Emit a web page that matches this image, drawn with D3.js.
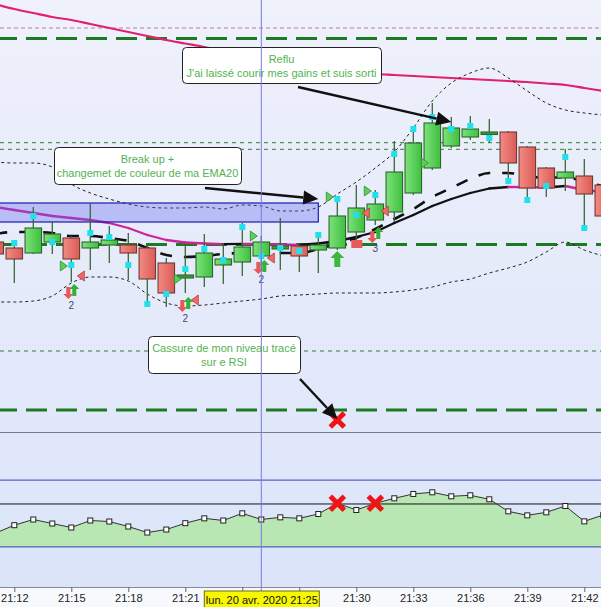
<!DOCTYPE html>
<html><head><meta charset="utf-8">
<script src="https://cdn.jsdelivr.net/npm/d3@7"></script>
<style>
body{margin:0;background:#fff}
svg{display:block}
text{font-family:"Liberation Sans",Arial,sans-serif}
</style></head>
<body><svg id="c" width="601" height="607"></svg>
<script>
// ---------- DATA (price units are arbitrary chart points) ----------
const day = "2020-04-20";
const times = ["21:11","21:12","21:13","21:14","21:15","21:16","21:17","21:18","21:19","21:20","21:21","21:22","21:23","21:24","21:25","21:26","21:27","21:28","21:29","21:30","21:31","21:32","21:33","21:34","21:35","21:36","21:37","21:38","21:39","21:40","21:41","21:42","21:43"];
const open  = [190,184,179,190,194,184,187,187,184,169,154,155,167,170,176,183,186,182,184,200,212,220,239,264,286,295,298,300,285,264,254,256,247];
const high  = [197,186,225,211,196,229,206,199,189,174,187,198,189,209,196,214,188,199,232,247,242,291,305,329,315,316,313,301,286,265,283,273,252];
const low   = [170,149,178,178,150,162,169,152,125,125,139,145,148,156,162,162,160,159,182,192,207,210,237,262,284,292,289,251,232,235,241,204,210];
const close = [178,173,204,198,173,190,192,179,153,139,157,179,173,185,190,186,176,187,216,224,228,260,289,309,304,303,300,269,244,244,260,238,216];
const ema20 = [225,222,219,216,214,212,209,204,197,192,189.5,188.5,187.8,188.2,188,187.5,187,188.5,191,195,200,209,217,226,233,239,243.5,245,244.8,244.5,246,242,240];
const slowAvg = [198,200,200,199,196,196,194,191,184,177,175,176,178,179,179,179,179,183,188,194,203,213,223,235,244,253,259,259,256,254,255,250,246];
const longAvg = [428,423,419,415,412,408,404,400,396,392,388.5,385,381,377,373,369,366,363,361,359.5,358,357,356,355,354,353,352,351,350,348.5,347,344,341];
const bbUpper = [270,269,269,265,248,239,233,228,225,224,224,225,223,227,226,221,221,225,238,250,264,280,304,331,349,359,364,354,341,329,322,319,317];
const bbLower = [130,130,131,136,149,155,155,151,138,129,126,127,129,131,133,136,137,138,139,139,139,140,142,145,150,153,159,164,170,180,190,182,176];
const cyanPts = [null,189,216,190,167,199,195,167,128,138,163,183,172,205,176,184,181,197,233,217,237,278,303,315,303,306,294,251,232,246,275,204,null];
const rsi = [38.2,43.0,46.4,44.0,41.6,45.8,45.2,42.2,38.6,40.4,44.2,47.1,45.8,50.1,46.4,47.7,47.1,49.7,56.1,52.1,56.1,59.1,61.7,62.7,60.3,60.9,58.5,51.3,48.9,50.7,54.5,45.3,49.1];

const thickLevels = [393.5, 187.5, 22];
const thinLevels = [289.3, 282.7, 81];
const pinkLevel = 404;
const rsiLevels = [70, 30];
const rsiUserLevel = 55.7;
const zone = {from:"21:05", to:"21:28", low:210, high:229};

const greenTri = [{t:"21:15",p:166},{t:"21:21",p:153},{t:"21:25",p:196},{t:"21:29",p:235},{t:"21:31",p:241},{t:"21:34",p:269}];
const redTri = [{t:"21:15",p:156},{t:"21:21",p:132},{t:"21:25",p:174},{t:"21:30",p:219},{t:"21:31",p:221}];
const signals = [{t:"21:15",down:139,up:142,label:"2",lp:127},{t:"21:21",down:126,up:129,label:"2",lp:114},{t:"21:25",down:164,up:166,label:"2",lp:153},{t:"21:31",down:195,up:199,label:"3",lp:184}];
const bigUp = [{t:"21:29",p:173}];
const redBox = [{t:"21:30",p:188}];
const crossPrice = [{t:"21:29",p:12}];
const crossRsi = [{t:"21:29",v:56.1},{t:"21:31",v:56.1}];
const cursorTime = "21:25";

const notes = [
  {lines:["Reflu","J'ai laissé courir mes gains et suis sorti"], box:[182,47,199,36], from:[298,87], tipT:"21:35", tipP:310},
  {lines:["Break up +","changemet de couleur de ma EMA20"], box:[54,147,187,37], from:[205,188], tipT:"21:28", tipP:233},
  {lines:["Cassure de mon niveau tracé","sur e RSI"], box:[148,336,152,37], from:[300,379], tipT:"21:29", tipP:13}
];

// ---------- SETUP ----------
const parse = d3.timeParse("%Y-%m-%d %H:%M");
const T = s => parse(day+" "+s);
const bars = times.map((t,i)=>({t:T(t),o:open[i],h:high[i],l:low[i],c:close[i],i}));

const x = d3.scaleTime().domain([T("21:12"),T("21:42")]).range([14.3,584.3]);
const y = d3.scaleLinear().domain([0,432]).range([432,0]);
const yR = d3.scaleLinear().domain([0,100]).range([597,430]);

const svg = d3.select("#c");
const defs = svg.append("defs");
const bg = defs.append("linearGradient").attr("id","bg").attr("x1",0).attr("y1",0).attr("x2",0).attr("y2",1);
bg.append("stop").attr("offset","0%").attr("stop-color","#eff1fb");
bg.append("stop").attr("offset","100%").attr("stop-color","#dbe4f9");
const gg = defs.append("linearGradient").attr("id","gG").attr("x1",0).attr("x2",1);
gg.append("stop").attr("offset","0%").attr("stop-color","#7ce27a");
gg.append("stop").attr("offset","100%").attr("stop-color","#3fbf3f");
const rg = defs.append("linearGradient").attr("id","gR").attr("x1",0).attr("x2",1);
rg.append("stop").attr("offset","0%").attr("stop-color","#f48a84");
rg.append("stop").attr("offset","100%").attr("stop-color","#d95c56");
defs.append("clipPath").attr("id","cMain").append("rect").attr("x",0).attr("y",0).attr("width",601).attr("height",432);
defs.append("clipPath").attr("id","cRsi").append("rect").attr("x",0).attr("y",432).attr("width",601).attr("height",155);

svg.append("rect").attr("x",0).attr("y",0).attr("width",601).attr("height",587).attr("fill","url(#bg)");
svg.append("rect").attr("x",0).attr("y",587).attr("width",601).attr("height",20).attr("fill","#f8f9fc");

const main = svg.append("g").attr("clip-path","url(#cMain)");

// levels
main.append("line").attr("x1",0).attr("x2",601).attr("y1",y(pinkLevel)).attr("y2",y(pinkLevel))
  .attr("stroke","#c97a98").attr("stroke-width",1).attr("stroke-dasharray","4,3");
main.selectAll(".thin").data(thinLevels).join("line").attr("x1",0).attr("x2",601)
  .attr("y1",d=>y(d)).attr("y2",d=>y(d)).attr("stroke","#2f7d32").attr("stroke-width",1).attr("stroke-dasharray","4,4");
main.selectAll(".thick").data(thickLevels).join("line").attr("x1",0).attr("x2",601)
  .attr("y1",d=>y(d)).attr("y2",d=>y(d)).attr("stroke","#1e7a22").attr("stroke-width",3)
  .attr("stroke-dasharray","21,9").attr("stroke-dashoffset",4);

// lines
const lineOf = (arr, curve) => d3.line().x((d,i)=>x(bars[i].t)).y(d=>y(d)).curve(curve||d3.curveMonotoneX)(arr);
main.append("path").attr("d",lineOf(longAvg)).attr("fill","none").attr("stroke","#e3206f").attr("stroke-width",2.2);
main.append("path").attr("d",lineOf(bbUpper)).attr("fill","none").attr("stroke","#222").attr("stroke-width",1).attr("stroke-dasharray","3,3");
main.append("path").attr("d",lineOf(bbLower)).attr("fill","none").attr("stroke","#222").attr("stroke-width",1).attr("stroke-dasharray","3,3");
main.append("path").attr("d",lineOf(slowAvg)).attr("fill","none").attr("stroke","#111").attr("stroke-width",2.6).attr("stroke-dasharray","12,12");
// EMA20 coloured by slope
for(let i=0;i<ema20.length-1;i++){
  const up = ema20[i+1] >= ema20[i];
  main.append("line").attr("x1",x(bars[i].t)).attr("y1",y(ema20[i])).attr("x2",x(bars[i+1].t)).attr("y2",y(ema20[i+1]))
    .attr("stroke", up ? "#111" : "#cc249c").attr("stroke-width",2.3).attr("stroke-linecap","round");
}

// zone
main.append("rect").attr("x",x(T(zone.from))).attr("y",y(zone.high))
  .attr("width",x(T(zone.to))-x(T(zone.from))).attr("height",y(zone.low)-y(zone.high))
  .attr("fill","rgba(88,96,238,0.33)").attr("stroke","#1c1cb0").attr("stroke-width",1.2);

// candles
const bw = 16.5;
const cg = main.append("g");
cg.selectAll(".wick").data(bars).join("line")
  .attr("x1",d=>x(d.t)).attr("x2",d=>x(d.t)).attr("y1",d=>y(d.h)).attr("y2",d=>y(d.l))
  .attr("stroke","#3a673a").attr("stroke-width",1.3);
cg.selectAll(".body").data(bars).join("rect")
  .attr("x",d=>x(d.t)-bw/2).attr("width",bw)
  .attr("y",d=>y(Math.max(d.o,d.c))).attr("height",d=>Math.max(2.5,Math.abs(y(d.o)-y(d.c))))
  .attr("fill",d=>d.c>=d.o ? (Math.abs(d.c-d.o)<4?"#3a9a3a":"url(#gG)") : "url(#gR)")
  .attr("stroke",d=>d.c>=d.o?"#2d662d":"#6e3b32").attr("stroke-width",1.1);

// cyan points
main.selectAll(".cy").data(bars.filter(d=>cyanPts[d.i]!=null)).join("rect")
  .attr("x",d=>x(d.t)-3).attr("y",d=>y(cyanPts[d.i])-3).attr("width",6).attr("height",6).attr("fill","#20e0ea");

// triangles
main.selectAll(".gt").data(greenTri).join("path")
  .attr("transform",d=>`translate(${x(T(d.t))-8},${y(d.p)})`)
  .attr("d","M-3,-5L4,0L-3,5Z").attr("fill","#5ad05a").attr("stroke","#2c8a2c").attr("stroke-width",0.8);
main.selectAll(".rt").data(redTri).join("path")
  .attr("transform",d=>`translate(${x(T(d.t))+10},${y(d.p)})`)
  .attr("d","M3,-5L-4,0L3,5Z").attr("fill","#f06a6a").attr("stroke","#c23434").attr("stroke-width",0.8);
// signal arrows
const upArrow = "M0,-6L5,-1L2,-1L2,6L-2,6L-2,-1L-5,-1Z";
const dnArrow = "M0,6L5,1L2,1L2,-6L-2,-6L-2,1L-5,1Z";
const sg = main.selectAll(".sig").data(signals).join("g");
sg.append("path").attr("transform",d=>`translate(${x(T(d.t))-3},${y(d.down)})`).attr("d",dnArrow).attr("fill","#e85858");
sg.append("path").attr("transform",d=>`translate(${x(T(d.t))+3},${y(d.up)})`).attr("d",upArrow).attr("fill","#34b034");
sg.append("text").attr("x",d=>x(T(d.t))).attr("y",d=>y(d.lp)+4).attr("text-anchor","middle")
  .attr("font-size",10).attr("fill","#3a4a72").text(d=>d.label);
main.selectAll(".bu").data(bigUp).join("path")
  .attr("transform",d=>`translate(${x(T(d.t))},${y(d.p)})`)
  .attr("d","M0,-8L7,-1L3,-1L3,8L-3,8L-3,-1L-7,-1Z").attr("fill","#3cb83c");
main.selectAll(".rb").data(redBox).join("rect")
  .attr("x",d=>x(T(d.t))-5).attr("y",d=>y(d.p)-4).attr("width",11).attr("height",8).attr("fill","#e85a5a");

const xMark = "M-7,-7L7,7M7,-7L-7,7";
main.selectAll(".xp").data(crossPrice).join("path")
  .attr("transform",d=>`translate(${x(T(d.t))},${y(d.p)})`).attr("d",xMark)
  .attr("stroke","#f01414").attr("stroke-width",5);

// ---------- RSI panel ----------
const rs = svg.append("g").attr("clip-path","url(#cRsi)");
rs.append("path").attr("d",d3.area().x((d,i)=>x(bars[i].t)).y0(yR(30)).y1(d=>yR(d))(rsi))
  .attr("fill","#b9e7b3");
rs.selectAll(".lvl").data(rsiLevels).join("line").attr("x1",0).attr("x2",601)
  .attr("y1",d=>yR(d)).attr("y2",d=>yR(d)).attr("stroke","#3742b2").attr("stroke-width",1);
rs.append("line").attr("x1",0).attr("x2",601).attr("y1",yR(rsiUserLevel)).attr("y2",yR(rsiUserLevel))
  .attr("stroke","#111").attr("stroke-width",1);
rs.append("path").attr("d",d3.line().x((d,i)=>x(bars[i].t)).y(d=>yR(d))(rsi))
  .attr("fill","none").attr("stroke","#333").attr("stroke-width",1);
rs.selectAll(".sq").data(rsi).join("rect")
  .attr("x",(d,i)=>x(bars[i].t)-2.5).attr("y",d=>yR(d)-2.5).attr("width",5).attr("height",5)
  .attr("fill","#fff").attr("stroke","#222").attr("stroke-width",1);
rs.selectAll(".xr").data(crossRsi).join("path")
  .attr("transform",d=>`translate(${x(T(d.t))},${yR(d.v)})`).attr("d",xMark)
  .attr("stroke","#f01414").attr("stroke-width",5);

// panel separator & bottom border
svg.append("line").attr("x1",0).attr("x2",601).attr("y1",432.5).attr("y2",432.5).attr("stroke","#7a7a8c").attr("stroke-width",1);
svg.append("line").attr("x1",0).attr("x2",601).attr("y1",587.5).attr("y2",587.5).attr("stroke","#8a8a98").attr("stroke-width",1);

// ---------- annotations ----------
function arrow(g,x1,y1,x2,y2){
  const a = Math.atan2(y2-y1,x2-x1), L=15, Wd=7;
  const bx = x2-L*Math.cos(a), by = y2-L*Math.sin(a);
  g.append("line").attr("x1",x1).attr("y1",y1).attr("x2",bx).attr("y2",by).attr("stroke","#111").attr("stroke-width",2.4);
  g.append("path").attr("d",`M${x2},${y2}L${bx+Wd*Math.sin(a)},${by-Wd*Math.cos(a)}L${bx-Wd*Math.sin(a)},${by+Wd*Math.cos(a)}Z`).attr("fill","#111");
}
const ag = svg.append("g");
notes.forEach(n=>{
  const [bx,by,bw2,bh] = n.box;
  ag.append("rect").attr("x",bx+0.5).attr("y",by+0.5).attr("width",bw2).attr("height",bh).attr("rx",4)
    .attr("fill","#fff").attr("stroke","#222").attr("stroke-width",1);
  n.lines.forEach((s,k)=>{
    ag.append("text").attr("x",bx+bw2/2).attr("y",by+16+k*14).attr("text-anchor","middle")
      .attr("font-size",11).attr("fill","#52b352").text(s);
  });
  arrow(ag,n.from[0],n.from[1],x(T(n.tipT)),y(n.tipP));
});

// ---------- axis ----------
const cx = x(T(cursorTime));
const labelHalf = 57;
const ax = svg.append("g").attr("transform","translate(0,587)")
  .call(d3.axisBottom(x).ticks(d3.timeMinute.every(3)).tickFormat(d3.timeFormat("%H:%M")).tickSize(5).tickPadding(2));
ax.select(".domain").remove();
ax.selectAll(".tick line").attr("stroke","#666");
ax.selectAll(".tick text").attr("font-size",11).attr("fill","#222").attr("font-family","Liberation Sans, Arial, sans-serif");
// tick labels hidden behind the cursor date label are not shown
ax.selectAll(".tick").filter(d=>Math.abs(x(d)-cx) < labelHalf+14).select("text").remove();

// ---------- crosshair ----------
svg.append("line").attr("x1",cx).attr("x2",cx).attr("y1",0).attr("y2",591).attr("stroke","#7a7ae2").attr("stroke-width",1);
const fr = d3.timeFormatLocale({dateTime:"%A %e %B %Y à %X",date:"%d/%m/%Y",time:"%H:%M:%S",periods:["AM","PM"],
  days:["dimanche","lundi","mardi","mercredi","jeudi","vendredi","samedi"],
  shortDays:["dim.","lun.","mar.","mer.","jeu.","ven.","sam."],
  months:["janvier","février","mars","avril","mai","juin","juillet","août","septembre","octobre","novembre","décembre"],
  shortMonths:["janv.","févr.","mars","avr.","mai","juin","juil.","août","sept.","oct.","nov.","déc."]});
svg.append("rect").attr("x",cx-labelHalf).attr("y",591).attr("width",labelHalf*2+1).attr("height",18).attr("fill","#f7f700").attr("stroke","#6b6b20").attr("stroke-width",1);
svg.append("text").attr("x",cx+0.5).attr("y",603.5).attr("text-anchor","middle").attr("font-size",11).attr("fill","#111")
  .text(fr.format("%a %d %b %Y %H:%M")(T(cursorTime)));
</script>
</body></html>
